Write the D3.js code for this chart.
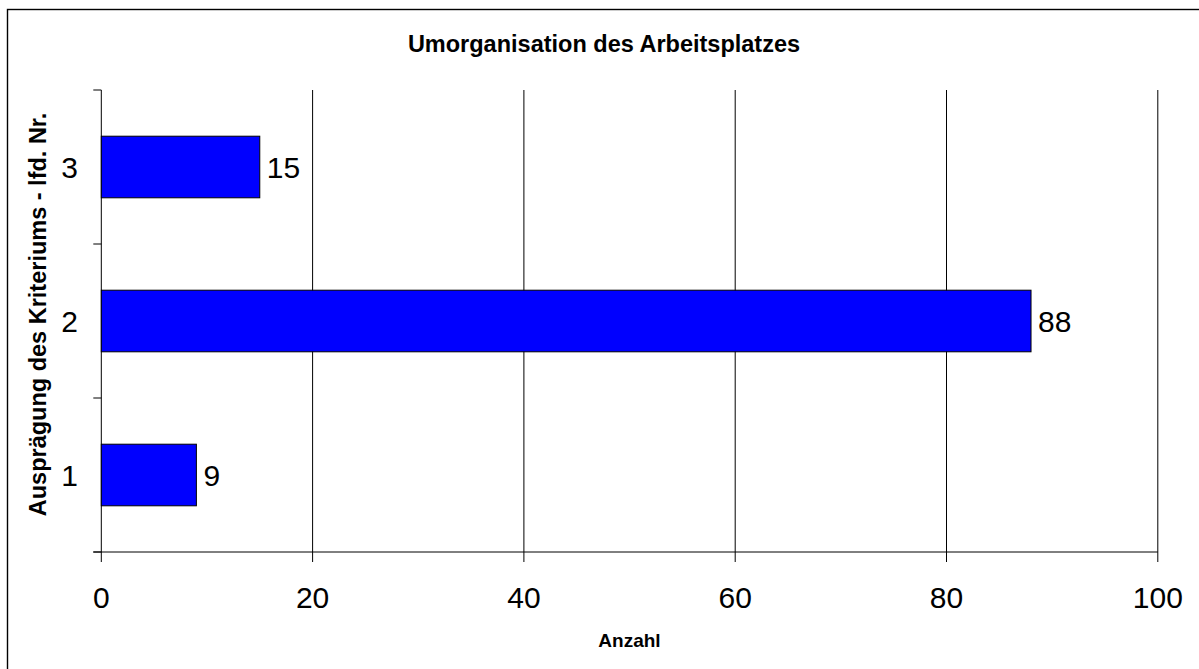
<!DOCTYPE html>
<html><head><meta charset="utf-8">
<script src="https://cdn.jsdelivr.net/npm/d3@7"></script>
<style>html,body{margin:0;padding:0;background:#fff;overflow:hidden}svg{display:block}text{font-family:Arial,"Liberation Sans",sans-serif}</style>
</head><body>
<script>
const categories = ["3", "2", "1"];
const values = [15, 88, 9];
const xTicks = [0, 20, 40, 60, 80, 100];
const title = "Umorganisation des Arbeitsplatzes";
const xTitle = "Anzahl";
const yTitle = "Ausprägung des Kriteriums - lfd. Nr.";

const W = 1199, H = 669;
const svg = d3.select("body").append("svg").attr("width", W).attr("height", H);

svg.append("rect").attr("x", 7.5).attr("y", 9.5).attr("width", 1400).attr("height", 1000)
  .attr("fill", "none").attr("stroke", "#000").attr("stroke-width", 1.4);

const x = d3.scaleLinear().domain([0, 100]).range([101.3, 1157.8]);
const y = d3.scaleBand().domain(categories).range([90, 552]).padding(0);

// gridlines
svg.append("g").selectAll("line").data(xTicks.filter(d => d > 0)).join("line")
  .attr("x1", d => x(d)).attr("x2", d => x(d)).attr("y1", 90).attr("y2", 552)
  .attr("stroke", "#000").attr("stroke-width", 1);

// y axis
svg.append("line").attr("x1", x(0)).attr("x2", x(0)).attr("y1", 90).attr("y2", 552).attr("stroke", "#000");
const bounds = categories.map(c => y(c)).concat([552]);
svg.append("g").selectAll("line").data(bounds).join("line")
  .attr("x1", x(0) - 8).attr("x2", x(0)).attr("y1", d => d).attr("y2", d => d).attr("stroke", "#000");

// x axis
svg.append("line").attr("x1", x(0) - 8).attr("x2", x(100)).attr("y1", 552).attr("y2", 552).attr("stroke", "#000");
svg.append("g").selectAll("line").data(xTicks).join("line")
  .attr("x1", d => x(d)).attr("x2", d => x(d)).attr("y1", 552).attr("y2", 562).attr("stroke", "#000");
svg.append("g").selectAll("text").data(xTicks).join("text")
  .attr("x", d => x(d)).attr("y", 608).attr("text-anchor", "middle")
  .attr("font-size", 30).text(d => d);

// bars
const bh = y.bandwidth() * 0.4;
const data = categories.map((c, i) => ({c, v: values[i]}));
svg.append("g").selectAll("rect").data(data).join("rect")
  .attr("x", x(0)).attr("y", d => y(d.c) + (y.bandwidth() - bh) / 2)
  .attr("width", d => x(d.v) - x(0)).attr("height", bh)
  .attr("fill", "#0000FF").attr("stroke", "#000").attr("stroke-width", 1);

svg.append("g").selectAll("text").data(data).join("text")
  .attr("x", d => x(d.v) + 7).attr("y", d => y(d.c) + y.bandwidth() / 2 + 11)
  .attr("font-size", 30).text(d => d.v);

// y tick labels
svg.append("g").selectAll("text").data(categories).join("text")
  .attr("x", 78).attr("y", d => y(d) + y.bandwidth() / 2 + 11)
  .attr("text-anchor", "end").attr("font-size", 30).text(d => d);

// titles
svg.append("text").attr("x", 604).attr("y", 51.7).attr("text-anchor", "middle")
  .attr("font-size", 23.5).attr("font-weight", "bold").text(title);
svg.append("text").attr("x", 629.5).attr("y", 647).attr("text-anchor", "middle")
  .attr("font-size", 19).attr("font-weight", "bold").text(xTitle);
svg.append("text").attr("transform", "translate(46,314.5) rotate(-90)").attr("text-anchor", "middle")
  .attr("font-size", 23.5).attr("font-weight", "bold").text(yTitle);
</script>
</body></html>
